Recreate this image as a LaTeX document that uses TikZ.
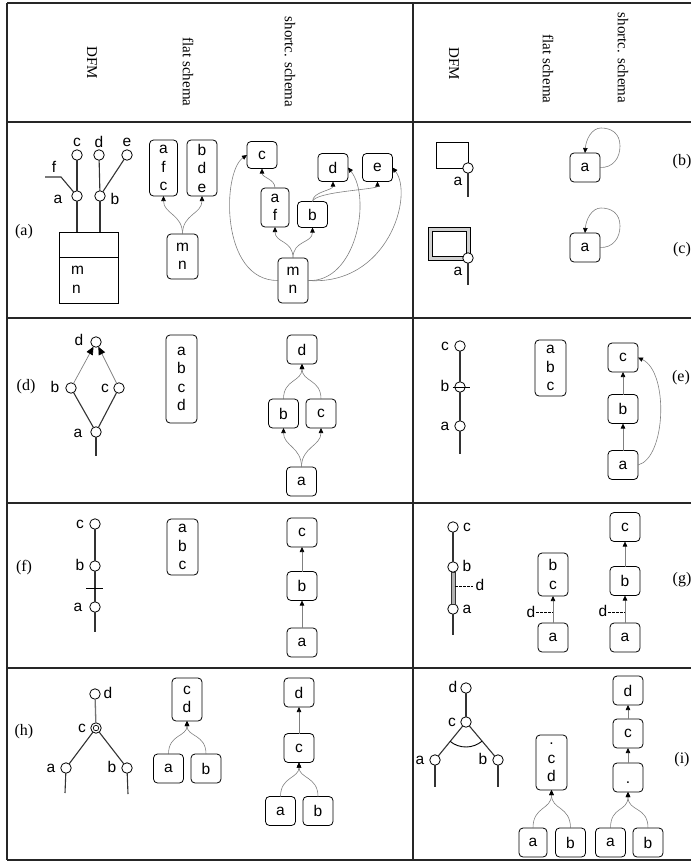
\documentclass[tikz,border=0pt]{standalone}
\usepackage{fontspec}
\setmainfont{Liberation Serif}
\newfontfamily\sansf{Liberation Sans}
\usetikzlibrary{arrows.meta}
\begin{document}
\begin{tikzpicture}[x=1pt,y=-1pt,
  every node/.style={inner sep=0pt, outer sep=0pt},
  grid/.style={draw=black!85, line width=1.1pt},
  hdr/.style={font=\fontsize{15}{18}\selectfont, rotate=-90},
  lbl/.style={font=\fontsize{16}{19}\selectfont},
  txt/.style={font=\sansf\fontsize{15.5}{18.5}\selectfont},
  bx/.style={txt, draw, line width=0.8pt, rounded corners=4pt, minimum width=30pt, minimum height=29pt, align=center},
  att/.style={circle, draw, line width=0.8pt, fill=white, minimum size=10.5pt},
  dl/.style={draw=black!80, line width=1.1pt},
  arr/.style={draw=black!50, line width=0.6pt, -{Triangle[length=5pt,width=4.5pt,color=black]}},
  darr/.style={draw=black!50, line width=0.7pt, -{Triangle[length=8pt,width=7pt,color=black]}},
  dsh/.style={draw=black, line width=0.7pt, dash pattern=on 2.5pt off 1.5pt},
]
\useasboundingbox (0,0) rectangle (691,862);
% ---------------- grid
\draw[grid] (7,3) -- (691,3);
\draw[grid] (7,122) -- (691,122);
\draw[grid] (7,318) -- (691,318);
\draw[grid] (7,503) -- (691,503);
\draw[grid] (7,668) -- (691,668);
\draw[grid] (7,860) -- (691,860);
\draw[grid] (7,3) -- (7,860);
\draw[grid] (413,3) -- (413,860);
% ---------------- headers
\node[hdr] (h1) at (92,63) {DFM};
\node[hdr] (h2) at (188,72) {flat schema};
\node[hdr] (h3) at (290,62) {shortc. schema};
\node[hdr] (h4) at (454,64) {DFM};
\node[hdr] (h5) at (548,69) {flat schema};
\node[hdr] (h6) at (623,58) {shortc. schema};
% ---------------- row labels
\node[lbl] (la) at (24,232) {(a)};
\node[lbl] (lb) at (682,162) {(b)};
\node[lbl] (lc) at (682,250) {(c)};
\node[lbl] (ld) at (26,387) {(d)};
\node[lbl] (le) at (681,378) {(e)};
\node[lbl] (lf) at (24,568) {(f)};
\node[lbl] (lg) at (682,580) {(g)};
\node[lbl] (lh) at (24,732) {(h)};
\node[lbl] (li) at (682,760) {(i)};

% ================= (a) DFM
\node[draw, line width=1pt, minimum width=59pt, minimum height=71pt] (fact) at (88.5,267.5) {};
\draw[line width=1pt] (59,257) -- (118,257);
\node[txt, anchor=west] (fm) at (71,270) {m};
\node[txt, anchor=west] (fn) at (72,289) {n};
\node[att] (aA) at (77,196) {};
\node[att] (aB) at (100,196) {};
\node[att] (aC) at (77,155) {};
\node[att] (aD) at (99,155) {};
\node[att] (aE) at (127,155) {};
\coordinate (aF1) at (45,177);
\coordinate (aF2) at (61,177);
\draw[dl] (aA) -- (aA |- fact.north);
\draw[dl] (aB) -- (aB |- fact.north);
\draw[dl] (aA) -- (aC);
\draw[dl] (aB) -- (aD);
\draw[dl] (aB) -- (aE);
\draw[dl] (aF1) -- (aF2) -- (aA);
\node[txt] (aLc) at (77,142) {c};
\node[txt] (aLd) at (99,142) {d};
\node[txt] (aLe) at (127,142) {e};
\node[txt] (aLf) at (54,167) {f};
\node[txt] (aLa) at (58,199) {a};
\node[txt] (aLb) at (115,199) {b};
% (a) flat
\node[bx, minimum height=56pt, minimum width=28pt] (fa1) at (163.5,168) {a\\f\\c};
\node[bx, minimum height=56pt] (fa2) at (202,168) {b\\d\\e};
\node[bx, minimum height=45pt, minimum width=31pt] (fa3) at (182.5,256.5) {m\\n};
\draw[arr] (fa3.north) .. controls +(0,-20) and +(0,18) .. (fa1.south);
\draw[arr] (fa3.north) .. controls +(0,-20) and +(0,18) .. (fa2.south);
% (a) shortcut
\node[bx, minimum height=27pt] (saC) at (262,155) {c};
\node[bx, minimum height=39pt, minimum width=28pt] (saAF) at (275,207.5) {a\\f};
\node[bx, minimum height=26pt] (saB) at (312.5,214.5) {b};
\node[bx, minimum height=28pt] (saD) at (333,167.5) {d};
\node[bx, minimum height=28pt] (saE) at (377.5,167.5) {e};
\node[bx, minimum height=45pt] (saMN) at (293,280.5) {m\\n};
\draw[arr] (saAF.north) .. controls +(0,-9) and +(0,9) .. (saC.south);
\draw[arr] (saMN.north) .. controls +(0,-18) and +(0,16) .. (saAF.south);
\draw[arr] (saMN.north) .. controls +(0,-18) and +(0,16) .. (saB.south);
\draw[arr] (saB.north) .. controls +(0,-10) and +(0,9) .. (saD.south);
\draw[arr] (saB.north) .. controls +(2,-10) and +(0,8) .. (saE.south);
\draw[arr] (saMN.west) .. controls (220,281) and (222,172) .. (saC.west);
\draw[arr] (saMN.east) .. controls (356,283) and (372,198) .. (saD.east);
\draw[arr] (saMN.east) .. controls (388,286) and (414,195) .. (saE.east);

% ================= (b)
\node[att] (bA) at (468,168) {};
\coordinate (bq1) at (436,168);
\coordinate (bq2) at (436,142);
\coordinate (bq3) at (468,142);
\coordinate (bEnd) at (468,197);
\draw[line width=0.9pt] (bA.west) -- (bq1) -- (bq2) -- (bq3) -- (bA.north);
\draw[dl] (bA) -- (bEnd);
\node[txt] (bLa) at (458,181) {a};
\node[bx] (sbA) at (585,167.5) {a};
\draw[arr] (sbA.east) .. controls (613,168) and (620,158) .. (620,146) .. controls (620,133) and (611,128) .. (601,128) .. controls (592,128) and (586,139) .. (sbA.north);

% ================= (c)
\fill[black!18, even odd rule] (428,227) rectangle (470,260) (432,231) rectangle (466,256);
\draw[line width=0.8pt] (428,227) rectangle (470,260);
\draw[line width=0.8pt] (432,231) rectangle (466,256);
\node[att] (cA) at (468,258) {};
\coordinate (cEnd) at (468,285);
\draw[dl] (cA) -- (cEnd);
\node[txt] (cLa) at (458,271) {a};
\node[bx] (scA) at (585,247.5) {a};
\draw[arr] (scA.east) .. controls (613,248) and (620,238) .. (620,226) .. controls (620,213) and (611,208) .. (601,208) .. controls (592,208) and (586,219) .. (scA.north);

% ================= (d)
\node[att] (dD) at (96,342) {};
\node[att] (dB) at (71,388) {};
\node[att] (dC) at (119,388) {};
\node[att] (dA) at (96,432) {};
\coordinate (dEnd) at (96,456);
\draw[dl] (dA) -- (dB);
\draw[dl] (dA) -- (dC);
\draw[dl] (dA) -- (dEnd);
\draw[darr] (dB) -- (dD);
\draw[darr] (dC) -- (dD);
\node[txt] (dLd) at (79,340) {d};
\node[txt] (dLb) at (55,387) {b};
\node[txt] (dLc) at (105,388) {c};
\node[txt] (dLa) at (78,433) {a};
\node[bx, minimum height=88pt, minimum width=31pt] (fd) at (181.5,379) {a\\b\\c\\d};
\node[bx] (sdD) at (302,349.5) {d};
\node[bx] (sdB) at (283.5,413.5) {b};
\node[bx] (sdC) at (321,413.5) {c};
\node[bx] (sdA) at (301.5,481.5) {a};
\draw[arr] (sdA.north) .. controls +(0,-20) and +(0,18) .. (sdB.south);
\draw[arr] (sdA.north) .. controls +(0,-20) and +(0,18) .. (sdC.south);
\draw[arr] (sdB.north) .. controls +(0,-20) and +(0,18) .. (sdD.south);
\draw[arr] (sdC.north) .. controls +(0,-20) and +(0,18) .. (sdD.south);

% ================= (e)
\node[att] (eC) at (460,346) {};
\node[att] (eB) at (460,387) {};
\node[att] (eA) at (460,426) {};
\coordinate (eEnd) at (460,454);
\draw[dl] (eC) -- (eB);
\draw[dl] (eB) -- (eA);
\draw[dl] (eA) -- (eEnd);
\draw[line width=0.9pt] (452.5,387) -- (469.5,387);
\node[txt] (eLc) at (445,346) {c};
\node[txt] (eLb) at (445,386) {b};
\node[txt] (eLa) at (445,426) {a};
\node[bx, minimum height=56pt, minimum width=31pt] (fe) at (550.5,368) {a\\b\\c};
\node[bx] (seC) at (623,357.5) {c};
\node[bx] (seB) at (623,409) {b};
\node[bx] (seA) at (623,465) {a};
\draw[arr] (seA.north) -- (seB.south);
\draw[arr] (seB.north) -- (seC.south);
\draw[arr] (seA.east) .. controls (666,458) and (669,372) .. (seC.east);

% ================= (f)
\node[att] (fC) at (95,524) {};
\node[att] (fB) at (95,566) {};
\node[att] (fA) at (95,607) {};
\coordinate (fEnd) at (95,632);
\draw[dl] (fC) -- (fB);
\draw[dl] (fB) -- (fA);
\draw[dl] (fA) -- (fEnd);
\draw[line width=0.9pt] (86,588) -- (103,588);
\node[txt] (fLc) at (80,524) {c};
\node[txt] (fLb) at (80,565) {b};
\node[txt] (fLa) at (78,607) {a};
\node[bx, minimum height=56pt, minimum width=31pt] (ff) at (182.5,547) {a\\b\\c};
\node[bx] (sfC) at (302,532.5) {c};
\node[bx] (sfB) at (302,586) {b};
\node[bx] (sfA) at (302,642.5) {a};
\draw[arr] (sfA.north) -- (sfB.south);
\draw[arr] (sfB.north) -- (sfC.south);

% ================= (g)
\node[att] (gC) at (453,527) {};
\node[att] (gB) at (453,567) {};
\node[att] (gA) at (453,609) {};
\coordinate (gEnd) at (453,635);
\draw[dl] (gC) -- (gB);
\filldraw[fill=black!30, draw=black!80, line width=0.7pt] (451,572) rectangle (455,604);
\draw[dl] (gA) -- (gEnd);
\coordinate (gd1) at (455,586);
\coordinate (gd2) at (473,586);
\draw[dsh] (gd1) -- (gd2);
\node[txt] (gLd) at (480,585) {d};
\node[txt] (gLc) at (467,527) {c};
\node[txt] (gLb) at (467,566) {b};
\node[txt] (gLa) at (467,609) {a};
\node[bx, minimum height=43pt] (fgBC) at (553,574.5) {b\\c};
\node[bx] (fgA) at (553,637.5) {a};
\draw[arr] (fgA.north) -- (fgBC.south);
\coordinate (fgd1) at (536,612);
\coordinate (fgd2) at (553,612);
\draw[dsh] (fgd1) -- (fgd2);
\node[txt] (fgLd) at (531,612) {d};
\node[bx] (sgC) at (625,527) {c};
\node[bx] (sgB) at (625,581) {b};
\node[bx] (sgA) at (625,637.5) {a};
\draw[arr] (sgA.north) -- (sgB.south);
\draw[arr] (sgB.north) -- (sgC.south);
\coordinate (sgd1) at (608,612);
\coordinate (sgd2) at (625,612);
\draw[dsh] (sgd1) -- (sgd2);
\node[txt] (sgLd) at (603,611) {d};

% ================= (h)
\node[att] (hD) at (95,694) {};
\node[att] (hC) at (96,728) {};
\node[circle, draw, line width=0.7pt, minimum size=5.5pt] (hCi) at (96,728) {};
\node[att] (hA) at (66,768) {};
\node[att] (hB) at (127,768) {};
\coordinate (hAe) at (65,793);
\coordinate (hBe) at (128,794);
\draw[draw=black!55, line width=1.3pt] (hD) -- (hC);
\draw[dl] (hC) -- (hA);
\draw[dl] (hC) -- (hB);
\draw[dl] (hA) -- (hAe);
\draw[dl] (hB) -- (hBe);
\node[txt] (hLd) at (108,693) {d};
\node[txt] (hLc) at (82,728) {c};
\node[txt] (hLa) at (51,768) {a};
\node[txt] (hLb) at (112,767) {b};
\node[bx, minimum height=43pt] (fhCD) at (187,699.5) {c\\d};
\node[bx] (fhA) at (168.5,768.5) {a};
\node[bx] (fhB) at (206,768.5) {b};
\draw[arr] (fhA.north) .. controls +(0,-20) and +(0,16) .. (fhCD.south);
\draw[arr] (fhB.north) .. controls +(0,-20) and +(0,16) .. (fhCD.south);
\node[bx] (shD) at (299,692.5) {d};
\node[bx] (shC) at (299,748) {c};
\node[bx] (shA) at (280.5,811) {a};
\node[bx] (shB) at (318,811) {b};
\draw[arr] (shC.north) -- (shD.south);
\draw[arr] (shA.north) .. controls +(0,-20) and +(0,16) .. (shC.south);
\draw[arr] (shB.north) .. controls +(0,-20) and +(0,16) .. (shC.south);

% ================= (i)
\node[att] (iD) at (466,688) {};
\node[att] (iC) at (466,722) {};
\node[att] (iA) at (435,760) {};
\node[att] (iB) at (498,760) {};
\coordinate (iAe) at (435,787);
\coordinate (iBe) at (498,787);
\draw[dl] (iD) -- (iC);
\draw[dl] (iC) -- (iA);
\draw[dl] (iC) -- (iB);
\draw[dl] (iA) -- (iAe);
\draw[dl] (iB) -- (iBe);
\draw[line width=0.9pt] (450.2,741.4) .. controls (459.5,749) and (472.9,748.8) .. (482.1,741.1);
\node[txt] (iLd) at (453,687) {d};
\node[txt] (iLc) at (452,722) {c};
\node[txt] (iLa) at (420,760) {a};
\node[txt] (iLb) at (483,759) {b};
\node[bx, minimum height=55pt, minimum width=31pt] (fiX) at (551.5,762.5) {.\\c\\d};
\node[bx, minimum width=28pt] (fiA) at (533,842.5) {a};
\node[bx] (fiB) at (570.5,842.5) {b};
\draw[arr] (fiA.north) .. controls +(0,-22) and +(0,20) .. (fiX.south);
\draw[arr] (fiB.north) .. controls +(0,-22) and +(0,20) .. (fiX.south);
\node[bx] (siD) at (628,690.5) {d};
\node[bx] (siC) at (628,733.5) {c};
\node[bx] (siX) at (628,777.5) {\vphantom{bd}.};
\node[bx] (siA) at (610.5,842.5) {a};
\node[bx] (siB) at (648,842.5) {b};
\draw[arr] (siC.north) -- (siD.south);
\draw[arr] (siX.north) -- (siC.south);
\draw[arr] (siA.north) .. controls +(0,-22) and +(0,20) .. (siX.south);
\draw[arr] (siB.north) .. controls +(0,-22) and +(0,20) .. (siX.south);
\end{tikzpicture}
\end{document}
